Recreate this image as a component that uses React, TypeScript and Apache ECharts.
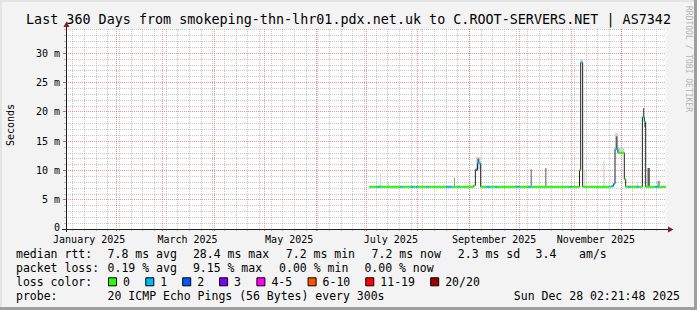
import React, { useEffect, useRef } from 'react';
import * as echarts from 'echarts';

// ---------------- data ----------------
const rangeStart = '2025-01-02 02:21:48';
const rangeEnd = '2025-12-28 02:21:48';

// median rtt (ms); each value holds from its time until the next time
const medianTimes = [
  '2025-07-03 02:00', '2025-07-07 22:00', '2025-07-09 12:00', '2025-07-21 19:00',
  '2025-07-23 00:00', '2025-07-28 02:00', '2025-07-29 22:00', '2025-07-31 02:00',
  '2025-08-01 07:00', '2025-08-06 12:00', '2025-08-07 17:00', '2025-08-18 02:00',
  '2025-08-21 12:00', '2025-08-25 12:00', '2025-08-26 12:00', '2025-09-03 14:00',
  '2025-09-04 17:00', '2025-09-06 00:00', '2025-09-07 22:00', '2025-09-11 12:00',
  '2025-09-13 12:00', '2025-09-16 12:00', '2025-09-17 22:00', '2025-09-29 02:00',
  '2025-10-01 02:00', '2025-10-06 12:00', '2025-10-07 22:00', '2025-10-31 02:00',
  '2025-11-01 07:00', '2025-11-06 05:00', '2025-11-06 22:00', '2025-11-08 02:00',
  '2025-11-25 00:00', '2025-11-26 14:00', '2025-11-27 12:00', '2025-11-29 05:00',
  '2025-12-03 02:00', '2025-12-03 22:00', '2025-12-05 12:00', '2025-12-06 12:00',
  '2025-12-10 12:00', '2025-12-11 17:00', '2025-12-13 22:00', '2025-12-15 02:00',
  '2025-12-15 22:00', '2025-12-21 12:00', '2025-12-23 12:00', '2025-12-28 02:21',
];
const medianValues = [
  7.2, 7.2, 7.2, 7.2,
  7.2, 7.2, 7.2, 7.2,
  7.2, 7.2, 7.2, 7.2,
  7.2, 7.2, 7.2, 7.4,
  10.1, 11.2, 7.2, 7.2,
  7.2, 7.2, 7.2, 7.2,
  7.2, 7.2, 7.2, 7.2,
  7.2, 10.0, 28.4, 7.2,
  7.3, 7.7, 13.6, 13.0,
  8.5, 7.2, 7.2, 7.2,
  7.2, 7.2, 19.1, 18.3,
  7.2, 7.2, 7.2, 7.2,
];
// lost pings out of 20
const medianLoss = [
  0, 1, 0, 1,
  0, 1, 0, 1,
  0, 1, 0, 1,
  0, 1, 0, 0,
  2, 1, 0, 1,
  0, 1, 0, 1,
  0, 1, 0, 1,
  0, 0, 1, 0,
  1, 1, 1, 0,
  0, 0, 1, 0,
  1, 0, 1, 0,
  0, 1, 0, 0,
];

// smoke: [from, to, low ms, high ms]
const smokeLight = [
  ['2025-07-09 12:00', '2025-07-10 02:00', 7.3, 9.5],
  ['2025-07-14 07:00', '2025-07-14 22:00', 7.3, 8.0],
  ['2025-09-05 00:00', '2025-09-07 22:00', 10.2, 12.3],
  ['2025-11-01 00:00', '2025-11-01 14:00', 7.3, 8.0],
  ['2025-11-06 22:00', '2025-11-08 02:00', 28.4, 29.0],
  ['2025-11-09 02:00', '2025-11-09 17:00', 7.3, 10.0],
  ['2025-11-20 12:00', '2025-11-21 07:00', 7.3, 11.6],
  ['2025-11-27 12:00', '2025-11-29 05:00', 13.6, 16.4],
  ['2025-11-29 05:00', '2025-12-03 02:00', 13.0, 13.9],
  ['2025-12-10 12:00', '2025-12-11 02:00', 7.3, 8.0],
];
const smokeMid = [
  ['2025-08-22 22:00', '2025-08-23 12:00', 7.3, 8.7],
  ['2025-12-23 00:00', '2025-12-24 10:00', 7.3, 8.2],
];
const smokeDark = [
  ['2025-09-06 00:00', '2025-09-07 00:00', 11.2, 12.0],
  ['2025-10-07 22:00', '2025-10-08 12:00', 7.3, 10.2],
  ['2025-10-16 17:00', '2025-10-17 07:00', 7.3, 10.4],
  ['2025-11-28 00:00', '2025-11-29 00:00', 13.6, 15.8],
  ['2025-12-14 07:00', '2025-12-15 02:00', 19.1, 20.6],
  ['2025-12-15 02:00', '2025-12-15 17:00', 17.4, 18.3],
  ['2025-12-17 00:00', '2025-12-18 10:00', 7.3, 10.4],
];

const yMax = 34.1;
const yTickValues = [0, 5, 10, 15, 20, 25, 30];
const yMinorValues = [1, 2, 3, 4, 6, 7, 8, 9, 11, 12, 13, 14, 16, 17, 18, 19, 21, 22, 23, 24, 26, 27, 28, 29, 31, 32, 33, 34];
const monthStarts = [
  '2025-02-01', '2025-03-01', '2025-04-01', '2025-05-01', '2025-06-01', '2025-07-01',
  '2025-08-01', '2025-09-01', '2025-10-01', '2025-11-01', '2025-12-01',
];
const monthLabelDates = ['2025-01-16', '2025-03-16', '2025-05-16', '2025-07-16', '2025-09-16', '2025-11-16'];
const monthLabels = ['January 2025', 'March 2025', 'May 2025', 'July 2025', 'September 2025', 'November 2025'];
const firstMonday = '2025-01-06';

const lossLabels = ['0', '1', '2', '3', '4-5', '6-10', '11-19', '20/20'];
const lossRanges = [[0, 0], [1, 1], [2, 2], [3, 3], [4, 5], [6, 10], [11, 19], [20, 20]];
const lossColors = ['#26ff00', '#00b8ff', '#0059ff', '#7e00ff', '#ff00ff', '#ff5500', '#ff0000', '#a00000'];

const titleText = 'Last 360 Days from smokeping-thn-lhr01.pdx.net.uk to C.ROOT-SERVERS.NET | AS7342';
const rttStats = ['7.8 ms avg', '28.4 ms max', '7.2 ms min', '7.2 ms now', '2.3 ms sd', '3.4', 'am/s'];
const lossStats = ['0.19 % avg', '9.15 % max', '0.00 % min', '0.00 % now'];
const probeText = '20 ICMP Echo Pings (56 Bytes) every 300s';
const stampText = 'Sun Dec 28 02:21:48 2025';

// ---------------- helpers ----------------
function ts(s: string): number {
  const [d, t = '00:00:00'] = s.split(' ');
  const [Y, M, D] = d.split('-').map(Number);
  const tp = t.split(':').map(Number);
  return new Date(Y, M - 1, D, tp[0] || 0, tp[1] || 0, tp[2] || 0).getTime();
}

const FONT = '"DejaVu Sans Mono", monospace';
const GL = 66, GT = 29, GW = 600, GH = 200;
const MAJOR = 'rgba(220,85,85,0.6)';
const MINOR = 'rgba(145,145,145,0.5)';

export default function App() {
  const ref = useRef<HTMLDivElement>(null);
  useEffect(() => {
    if (!ref.current) return;
    const chart = echarts.init(ref.current, undefined, { renderer: 'svg' });
    const xMin = ts(rangeStart);
    const xMax = ts(rangeEnd);

    const weekTicks: number[] = [];
    {
      const [Y, M, D] = firstMonday.split('-').map(Number);
      const d = new Date(Y, M - 1, D);
      while (d.getTime() <= xMax) {
        weekTicks.push(d.getTime());
        d.setDate(d.getDate() + 7);
      }
    }
    const labelTs = monthLabelDates.map(ts);

    const smokeSeries = (rows: any[], color: string) => ({
      type: 'custom',
      xAxisIndex: 1,
      yAxisIndex: 0,
      z: 1,
      silent: true,
      encode: { x: [0, 1], y: [2, 3] },
      data: rows.map((r) => [ts(r[0]), ts(r[1]), r[2], r[3]]),
      renderItem: (_p: any, api: any) => {
        const a = api.coord([api.value(0), api.value(3)]);
        const b = api.coord([api.value(1), api.value(2)]);
        return {
          type: 'rect',
          shape: { x: a[0], y: a[1], width: Math.max(1, b[0] - a[0]), height: Math.max(1, b[1] - a[1]) },
          style: { fill: color },
        };
      },
    });

    const lossSeries = lossRanges.map(([lo, hi], k) => {
      const data: any[] = [];
      for (let i = 0; i < medianTimes.length - 1; i++) {
        const l = medianLoss[i];
        if (l >= lo && l <= hi) {
          data.push([ts(medianTimes[i]), medianValues[i]]);
          data.push([ts(medianTimes[i + 1]), medianValues[i]]);
          data.push([ts(medianTimes[i + 1]), null]);
        }
      }
      return {
        type: 'line',
        name: lossLabels[k],
        xAxisIndex: 1,
        yAxisIndex: 0,
        z: 3,
        silent: true,
        symbol: 'none',
        showSymbol: false,
        connectNulls: false,
        data,
        lineStyle: { color: lossColors[k], width: 2 },
      };
    });

    const txt = (text: string, x: number, y: number, size: number, extra: any = {}) => ({
      type: 'text',
      x,
      y,
      silent: true,
      z: 10,
      style: { text, font: `${size}px ${FONT}`, fill: '#000', align: 'left', verticalAlign: 'middle', ...extra },
    });

    const rowY = [254.3, 268.3, 282.3, 296];
    const rttX = [107.6, 192.9, 285.8, 371.6, 457.8, 535.6, 579.1];
    const lossX = [107.6, 192.9, 279.1, 364.4];
    const boxX = [108, 145.3, 182.2, 219.1, 256.4, 307.6, 365.3, 430.2];
    const LEG = 11.5;

    const graphic: any[] = [
      { type: 'rect', shape: { x: 0, y: 0, width: 697, height: 2 }, style: { fill: '#e4e4e4' }, silent: true },
      { type: 'rect', shape: { x: 0, y: 0, width: 2, height: 310 }, style: { fill: '#e4e4e4' }, silent: true },
      { type: 'rect', shape: { x: 694, y: 0, width: 3, height: 310 }, style: { fill: '#9e9e9e' }, silent: true },
      { type: 'rect', shape: { x: 0, y: 307, width: 697, height: 3 }, style: { fill: '#9e9e9e' }, silent: true },
      txt(titleText, 348.5, 19, 13.4, { align: 'center' }),
      {
        type: 'text', x: 10, y: 125, rotation: Math.PI / 2, silent: true,
        style: { text: 'Seconds', font: `10px ${FONT}`, fill: '#000', align: 'center', verticalAlign: 'middle' },
      },
      {
        type: 'text', x: 688, y: 59, rotation: -Math.PI / 2, silent: true,
        style: { text: 'RRDTOOL / TOBI OETIKER', font: `8px ${FONT}`, fill: '#b4b4b4', align: 'center', verticalAlign: 'middle' },
      },
      // axis lines, extensions and arrows
      { type: 'line', shape: { x1: GL + 0.5, y1: GT + GH + 3, x2: GL + 0.5, y2: GT - 3 }, style: { stroke: '#202020', lineWidth: 1 }, silent: true, z: 5 },
      { type: 'line', shape: { x1: GL - 4, y1: GT + GH + 0.5, x2: GL + GW + 3, y2: GT + GH + 0.5 }, style: { stroke: '#202020', lineWidth: 1 }, silent: true, z: 5 },
      { type: 'polygon', shape: { points: [[GL - 2.5, GT - 2], [GL + 3.5, GT - 2], [GL + 0.5, GT - 7.5]] }, style: { fill: '#801f1f' }, silent: true, z: 6 },
      { type: 'polygon', shape: { points: [[GL + GW + 2, GT + GH - 2.5], [GL + GW + 2, GT + GH + 3.5], [GL + GW + 7.5, GT + GH + 0.5]] }, style: { fill: '#801f1f' }, silent: true, z: 6 },
      // legend
      txt('median rtt:', 16, rowY[0], LEG),
      ...rttStats.map((s, i) => txt(s, rttX[i], rowY[0], LEG)),
      txt('packet loss:', 16, rowY[1], LEG),
      ...lossStats.map((s, i) => txt(s, lossX[i], rowY[1], LEG)),
      txt('loss color:', 16, rowY[2], LEG),
      ...lossLabels.map((s, i) => txt(s, boxX[i] + 15, rowY[2], LEG)),
      ...lossColors.map((c, i) => ({
        type: 'rect', silent: true, z: 10,
        shape: { x: boxX[i] + 0.5, y: rowY[2] - 4.5, width: 8, height: 8 },
        style: { fill: c, stroke: '#000', lineWidth: 1 },
      })),
      txt('probe:', 16, rowY[3], LEG),
      txt(probeText, 107.6, rowY[3], LEG),
      txt(stampText, 680, rowY[3], LEG, { align: 'right' }),
    ];

    const option: any = {
      animation: false,
      backgroundColor: '#f3f3f3',
      grid: {
        left: GL, top: GT, width: GW, height: GH,
        show: true, backgroundColor: '#ffffff', borderWidth: 0,
        containLabel: false, outerBoundsMode: 'none',
      },
      xAxis: [
        {
          type: 'value', min: xMin, max: xMax, position: 'bottom', offset: 0,
          axisLine: { show: false },
          axisTick: { show: true, customValues: weekTicks, length: 2, lineStyle: { color: '#b8b8b8' } },
          axisLabel: { show: false },
          splitLine: { show: true, lineStyle: { color: MINOR, type: [1, 1], width: 1 } },
        },
        {
          type: 'value', min: xMin, max: xMax, position: 'bottom', offset: 0,
          axisLine: { show: false },
          axisTick: { show: true, customValues: monthStarts.map(ts), length: 2, lineStyle: { color: '#e06060' } },
          axisLabel: {
            show: true,
            customValues: labelTs,
            margin: 5,
            lineHeight: 10,
            fontFamily: FONT,
            fontSize: 10,
            color: '#000',
            formatter: (v: number) => {
              let best = 0;
              labelTs.forEach((t, i) => { if (Math.abs(t - v) < Math.abs(labelTs[best] - v)) best = i; });
              return monthLabels[best];
            },
          },
          splitLine: { show: true, lineStyle: { color: MAJOR, type: [1, 1], width: 1 } },
        },
      ],
      yAxis: [
        {
          type: 'value', min: 0, max: yMax, position: 'left', offset: 0,
          axisLine: { show: false },
          axisTick: { show: true, customValues: yTickValues, length: 3, lineStyle: { color: '#e06060' } },
          axisLabel: {
            show: true, customValues: yTickValues, margin: 6, lineHeight: 8,
            fontFamily: FONT, fontSize: 10, color: '#000',
            formatter: (v: number) => (v === 0 ? '{z|0}' : `${v} m`),
            rich: { z: { fontFamily: FONT, fontSize: 10, color: '#000', lineHeight: 8, padding: [0, 0, 4, 0] } },
          },
          splitLine: { show: true, lineStyle: { color: MAJOR, type: [1, 1], width: 1 } },
        },
        {
          type: 'value', min: 0, max: yMax, position: 'left', offset: 0,
          axisLine: { show: false },
          axisTick: { show: true, customValues: yMinorValues, length: 2, lineStyle: { color: '#b8b8b8' } },
          axisLabel: { show: false },
          splitLine: { show: true, lineStyle: { color: MINOR, type: [1, 1], width: 1 } },
        },
      ],
      series: [
        smokeSeries(smokeLight, '#d4d4d4'),
        smokeSeries(smokeMid, '#9a9a9a'),
        smokeSeries(smokeDark, '#5a5a5a'),
        {
          type: 'line',
          xAxisIndex: 1,
          yAxisIndex: 0,
          z: 2,
          silent: true,
          step: 'end',
          symbol: 'none',
          showSymbol: false,
          data: medianTimes.map((t, i) => [ts(t), medianValues[i]]),
          lineStyle: { color: '#202020', width: 1 },
        },
        ...lossSeries,
      ],
      graphic,
    };
    chart.setOption(option);
    return () => chart.dispose();
  }, []);
  return <div ref={ref} style={{ position: 'fixed', left: 0, top: 0, width: 697, height: 310 }} />;
}
